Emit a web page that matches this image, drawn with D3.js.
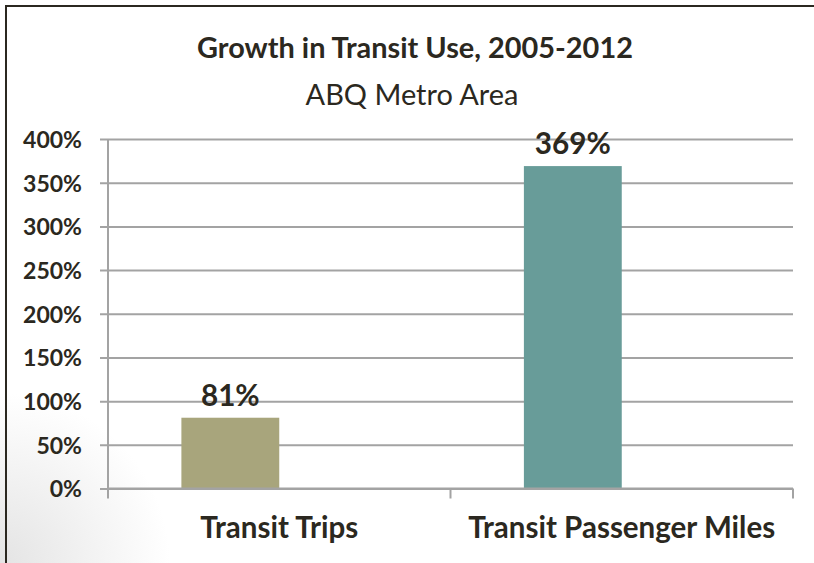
<!DOCTYPE html>
<html>
<head>
<meta charset="utf-8">
<script src="https://cdn.jsdelivr.net/npm/d3@7"></script>
<style>
  html, body { margin: 0; padding: 0; background: #fff; }
  svg { display: block; }
  text { font-family: Lato, "Open Sans", sans-serif; fill: #2b2820; }
</style>
</head>
<body>
<svg id="chart" width="814" height="563"></svg>
<script>
// Chart data
const categories = ["Transit Trips", "Transit Passenger Miles"];
const growth = [81, 369];
const barColors = ["#a8a57c", "#689c99"];
const yTicks = [0, 50, 100, 150, 200, 250, 300, 350, 400];
const titleText = "Growth in Transit Use, 2005-2012";
const subtitleText = "ABQ Metro Area";

const svg = d3.select("#chart");
const W = 814, H = 563;

// soft shading in the lower-left corner of the page
const defs = svg.append("defs");
const rg = defs.append("radialGradient").attr("id", "shade")
  .attr("gradientUnits", "userSpaceOnUse")
  .attr("cx", 0).attr("cy", H).attr("r", 170);
rg.append("stop").attr("offset", "0%").attr("stop-color", "#e4e4e4");
rg.append("stop").attr("offset", "100%").attr("stop-color", "#ffffff");
svg.append("rect").attr("width", W).attr("height", H).attr("fill", "#fff");
svg.append("rect").attr("width", W).attr("height", H).attr("fill", "url(#shade)");

// frame: top and left edges
svg.append("line").attr("x1", 5).attr("x2", W).attr("y1", 6).attr("y2", 6)
  .attr("stroke", "#2b2820").attr("stroke-width", 2);
svg.append("line").attr("x1", 6).attr("x2", 6).attr("y1", 5).attr("y2", H)
  .attr("stroke", "#2b2820").attr("stroke-width", 2);

// scales
const plot = { left: 108, right: 793, top: 139, bottom: 488.5 };
const y = d3.scaleLinear().domain([0, 400]).range([plot.bottom, plot.top]);
const x0 = d3.scaleBand().domain(categories).range([plot.left, plot.right])
  .paddingInner(0).paddingOuter(0);
// each category holds two slots; the value sits in the first
const x1 = d3.scaleBand().domain(["value", "spare"]).range([0, x0.bandwidth()])
  .paddingInner(0).paddingOuter(0.75);

// size a text element so its rendered width equals target
function fitWidth(sel, target, base) {
  sel.style("font-size", base + "px");
  const w = sel.node().getComputedTextLength();
  sel.style("font-size", (base * target / w) + "px");
}

// y axis with gridlines
const gridColor = "#a3a3a3";
const yAxis = svg.append("g").attr("transform", `translate(${plot.left},0)`)
  .call(d3.axisLeft(y).tickValues(yTicks).tickFormat(d => d + "%").tickSize(0));
yAxis.select(".domain").remove();
yAxis.selectAll(".tick line")
  .attr("x1", -8).attr("x2", plot.right - plot.left)
  .attr("stroke", gridColor).attr("stroke-width", 2);
yAxis.selectAll(".tick text")
  .attr("x", -26).attr("dy", "0.36em")
  .style("font-weight", "bold");
const yLabelScale = (() => {
  const t = yAxis.selectAll(".tick text").filter(d => d === 400);
  t.style("font-size", "18px");
  return 59 / t.node().getComputedTextLength() * 18;
})();
yAxis.selectAll(".tick text").style("font-size", yLabelScale + "px");
svg.append("line").attr("x1", plot.left).attr("x2", plot.left)
  .attr("y1", plot.top).attr("y2", plot.bottom)
  .attr("stroke", gridColor).attr("stroke-width", 2);

// bars
svg.append("g").selectAll("rect").data(categories).join("rect")
  .attr("x", (d) => x0(d) + x1("value"))
  .attr("width", x1.bandwidth())
  .attr("y", (d, i) => y(growth[i]))
  .attr("height", (d, i) => y(0) - y(growth[i]))
  .attr("fill", (d, i) => barColors[i]);

// category axis
const xAxis = svg.append("g");
xAxis.append("line").attr("x1", plot.left).attr("x2", plot.right)
  .attr("y1", plot.bottom).attr("y2", plot.bottom)
  .attr("stroke", gridColor).attr("stroke-width", 2);
const bounds = categories.map(c => x0(c)).concat([x0.range()[1]]);
xAxis.selectAll(".bound").data(bounds).join("line").attr("class", "bound")
  .attr("x1", d => d).attr("x2", d => d)
  .attr("y1", plot.bottom).attr("y2", plot.bottom + 10)
  .attr("stroke", gridColor).attr("stroke-width", 2);
const catLabels = xAxis.selectAll(".cat").data(categories).join("text").attr("class", "cat")
  .attr("x", d => x0(d) + x0.bandwidth() / 2)
  .attr("y", 538)
  .attr("text-anchor", "middle")
  .style("font-weight", "bold")
  .text(d => d);
const catSize = (() => {
  const t = catLabels.filter(d => d === "Transit Trips");
  t.style("font-size", "24px");
  return 158 / t.node().getComputedTextLength() * 24;
})();
catLabels.style("font-size", catSize + "px");

// value labels above bars
const valLabels = svg.append("g").selectAll("text").data(categories).join("text")
  .attr("x", d => x0(d) + x1("value") + x1.bandwidth() / 2)
  .attr("y", (d, i) => y(growth[i]) - 12)
  .attr("text-anchor", "middle")
  .style("font-weight", "bold")
  .text((d, i) => growth[i] + "%");
const valSize = (() => {
  const t = valLabels.filter((d, i) => i === 1);
  t.style("font-size", "24px");
  return 76 / t.node().getComputedTextLength() * 24;
})();
valLabels.style("font-size", valSize + "px");

// titles
const title = svg.append("text").attr("x", 415).attr("y", 58)
  .attr("text-anchor", "middle").style("font-weight", "bold").text(titleText);
fitWidth(title, 436, 26);
const subtitle = svg.append("text").attr("x", 412).attr("y", 105)
  .attr("text-anchor", "middle").text(subtitleText);
fitWidth(subtitle, 213, 24);
</script>
</body>
</html>
